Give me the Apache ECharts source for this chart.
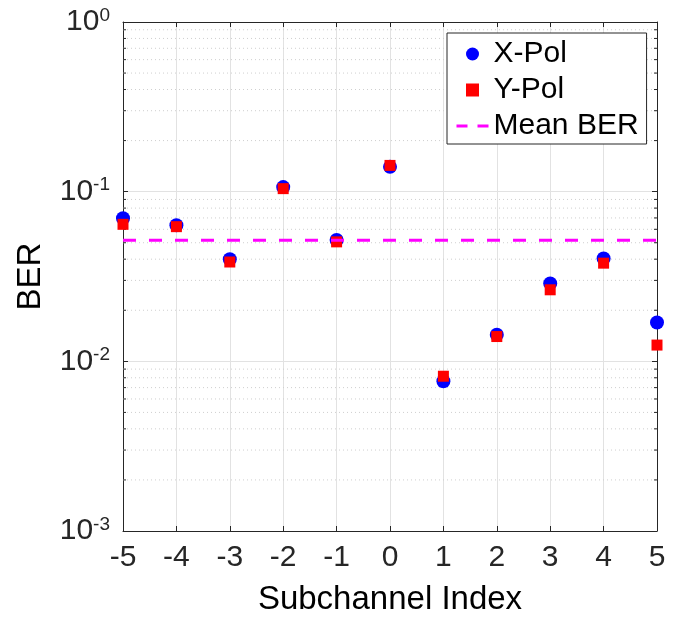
<!DOCTYPE html>
<html>
<head>
<meta charset="utf-8">
<script src="https://cdn.jsdelivr.net/npm/echarts@6/dist/echarts.min.js"></script>
<style>
  html, body { margin: 0; padding: 0; background: #fff; }
  #chart { width: 683px; height: 621px; }
</style>
</head>
<body>
<div id="chart"></div>
<script>
// Subchannel indices and measured bit error rates per polarisation
const subchannels = [-5, -4, -3, -2, -1, 0, 1, 2, 3, 4, 5];
const xPolBER = [0.0697, 0.0634, 0.0400, 0.1064, 0.0519, 0.1400, 0.00763, 0.01434, 0.0288, 0.0404, 0.01695];
const yPolBER = [0.0642, 0.0622, 0.0385, 0.1042, 0.0506, 0.1428, 0.00817, 0.0140, 0.0264, 0.0379, 0.01247];
const meanBER = 0.0518;

// Axis ranges
const xMin = -5, xMax = 5;
const berMin = 1e-3, berMax = 1;

// Minor log gridline values (2..9 within each decade)
const minorValues = [];
for (let d = -3; d < 0; d++) {
  for (let k = 2; k <= 9; k++) minorValues.push(k * Math.pow(10, d));
}

const FONT = '"Liberation Sans", Helvetica, Arial, sans-serif';
const AXIS_COLOR = '#262626';

const chart = echarts.init(document.getElementById('chart'), null, { renderer: 'canvas' });

const powLabel = function (v) {
  const e = Math.round(Math.log10(v));
  return '{b|10}{s|' + e + '}';
};
const powRich = {
  b: { fontSize: 30, lineHeight: 32, fontFamily: FONT, color: AXIS_COLOR },
  s: { fontSize: 19, lineHeight: 15, verticalAlign: 'top', fontFamily: FONT, color: AXIS_COLOR }
};

const option = {
  animation: false,
  backgroundColor: '#ffffff',
  textStyle: { fontFamily: FONT },
  grid: { left: 123, right: 26, top: 22, bottom: 89, containLabel: false },
  legend: {
    orient: 'vertical',
    left: 447,
    top: 33,
    padding: [6, 8, 3, 8],
    itemGap: 6,
    itemWidth: 32,
    itemHeight: 13,
    symbolKeepAspect: true,
    borderColor: AXIS_COLOR,
    borderWidth: 1,
    backgroundColor: '#ffffff',
    textStyle: { fontSize: 30, lineHeight: 30, color: '#000', fontFamily: FONT },
    data: [
      { name: 'X-Pol', icon: 'circle' },
      { name: 'Y-Pol', icon: 'path://M0,0L10,0L10,10L0,10Z' },
      {
        name: 'Mean BER',
        itemStyle: { color: 'rgba(0,0,0,0)', borderColor: 'rgba(0,0,0,0)', borderWidth: 0 },
        lineStyle: { color: '#ff00ff', width: 3, type: [11, 10] }
      }
    ]
  },
  xAxis: [
    {
      type: 'value', min: xMin, max: xMax, interval: 1, position: 'bottom',
      name: 'Subchannel Index', nameLocation: 'middle', nameGap: 52,
      nameTextStyle: { fontSize: 33, color: '#000', fontFamily: FONT },
      axisLine: { show: true, lineStyle: { color: AXIS_COLOR, width: 1 } },
      axisTick: { show: true, inside: true, length: 5, lineStyle: { color: AXIS_COLOR } },
      axisLabel: { fontSize: 30, color: AXIS_COLOR, margin: 12, fontFamily: FONT },
      splitLine: { show: true, lineStyle: { color: '#e2e2e2', width: 1 } }
    },
    {
      type: 'value', min: xMin, max: xMax, interval: 1, position: 'top',
      axisLine: { show: true, onZero: false, lineStyle: { color: AXIS_COLOR, width: 1 } },
      axisTick: { show: true, inside: true, length: 5, lineStyle: { color: AXIS_COLOR } },
      axisLabel: { show: false },
      splitLine: { show: false }
    }
  ],
  yAxis: [
    {
      type: 'log', logBase: 10, min: berMin, max: berMax, position: 'left',
      name: 'BER', nameLocation: 'middle', nameGap: 76, nameRotate: 90,
      nameTextStyle: { fontSize: 33, color: '#000', fontFamily: FONT },
      axisLine: { show: true, onZero: false, lineStyle: { color: AXIS_COLOR, width: 1 } },
      axisTick: { show: true, inside: true, length: 5, lineStyle: { color: AXIS_COLOR } },
      axisLabel: { formatter: powLabel, rich: powRich, margin: 13 },
      splitLine: { show: true, lineStyle: { color: '#e2e2e2', width: 1 } }
    },
    {
      type: 'log', logBase: 10, min: berMin, max: berMax, position: 'right',
      axisLine: { show: true, onZero: false, lineStyle: { color: AXIS_COLOR, width: 1 } },
      axisTick: { show: true, inside: true, length: 5, lineStyle: { color: AXIS_COLOR } },
      axisLabel: { show: false },
      splitLine: { show: false }
    }
  ],
  series: [
    {
      // dotted minor grid + minor ticks on left/right edges
      type: 'custom',
      silent: true,
      z: 1,
      xAxisIndex: 0,
      yAxisIndex: 0,
      clip: false,
      data: minorValues.map(v => [xMin, v]),
      renderItem: function (params, api) {
        const v = api.value(1);
        const a = api.coord([xMin, v]);
        const b = api.coord([xMax, v]);
        return {
          type: 'group',
          children: [
            { type: 'line', shape: { x1: a[0], y1: a[1], x2: b[0], y2: b[1] },
              style: { stroke: '#cfcfcf', lineWidth: 1, lineDash: [1, 3] } },
            { type: 'line', shape: { x1: a[0], y1: a[1], x2: a[0] + 3, y2: a[1] },
              style: { stroke: AXIS_COLOR, lineWidth: 1 } },
            { type: 'line', shape: { x1: b[0] - 3, y1: b[1], x2: b[0], y2: b[1] },
              style: { stroke: AXIS_COLOR, lineWidth: 1 } }
          ]
        };
      }
    },
    {
      name: 'X-Pol',
      type: 'scatter',
      z: 3,
      clip: false,
      symbol: 'circle',
      symbolSize: 14,
      itemStyle: { color: '#0000ff', opacity: 1 },
      data: subchannels.map((x, i) => [x, xPolBER[i]])
    },
    {
      name: 'Y-Pol',
      type: 'scatter',
      z: 4,
      clip: false,
      symbol: 'rect',
      symbolSize: 11,
      itemStyle: { color: '#ff0000', opacity: 1 },
      data: subchannels.map((x, i) => [x, yPolBER[i]])
    },
    {
      name: 'Mean BER',
      type: 'line',
      z: 5,
      symbol: 'none',
      showSymbol: false,
      lineStyle: { color: '#ff00ff', width: 3, type: [13, 13] },
      itemStyle: { color: '#ff00ff' },
      data: [[xMin, meanBER], [xMax, meanBER]]
    }
  ]
};

chart.setOption(option);
</script>
</body>
</html>
